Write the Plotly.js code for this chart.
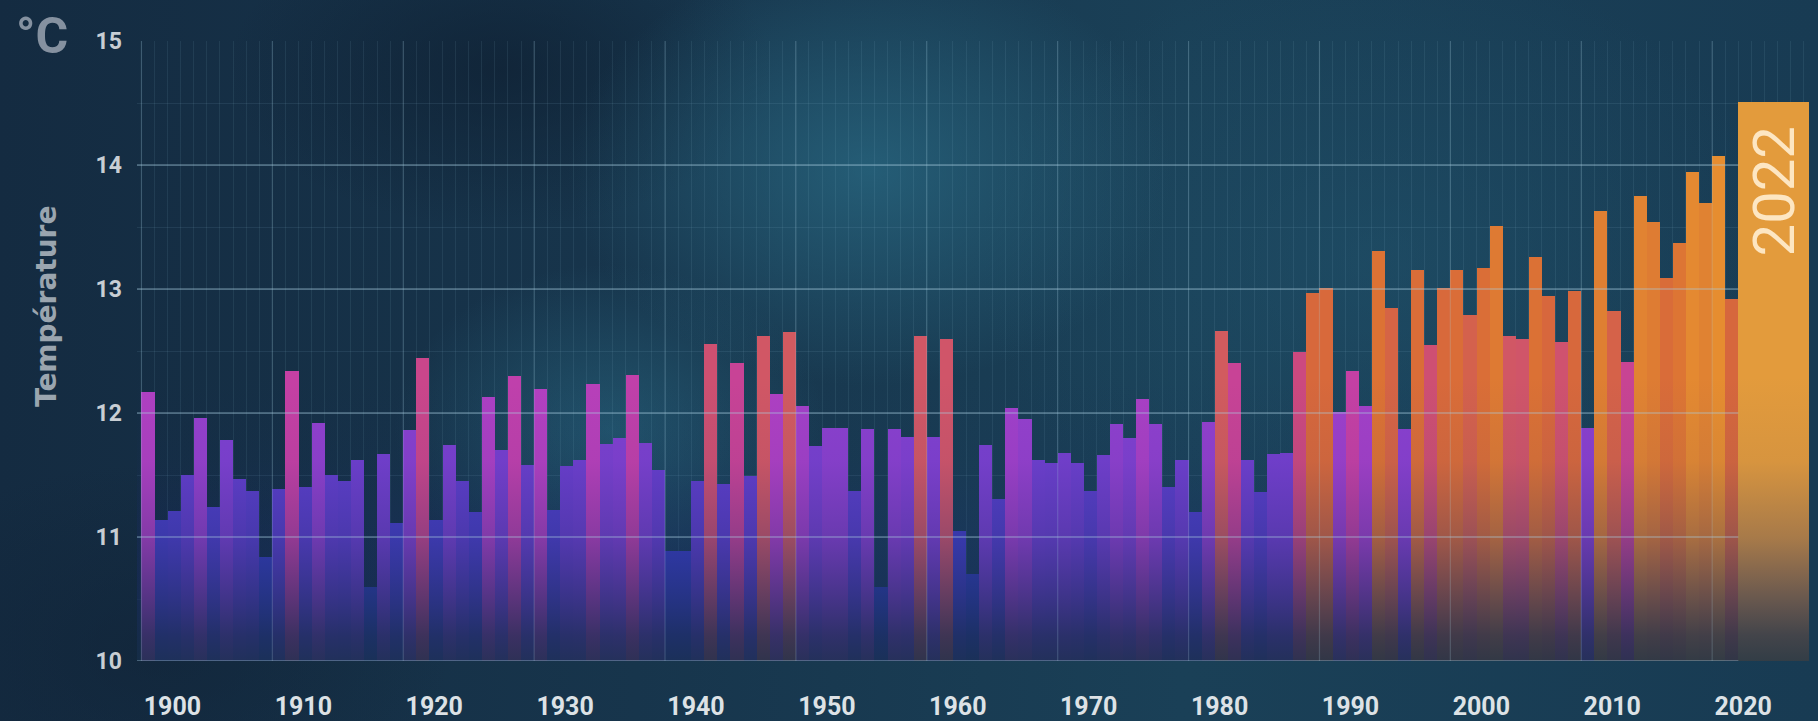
<!DOCTYPE html>
<html>
<head>
<meta charset="utf-8">
<script src="https://cdn.plot.ly/plotly-3.0.1.min.js"></script>
<style>
  html, body { margin: 0; padding: 0; }
  body {
    width: 1818px; height: 721px; overflow: hidden;
    background:
      radial-gradient(ellipse 420px 300px at 870px 170px, rgba(42,108,134,0.70), rgba(42,108,134,0) 72%),
      radial-gradient(ellipse 300px 230px at 610px 430px, rgba(42,108,134,0.55), rgba(42,108,134,0) 72%),
      radial-gradient(ellipse 560px 420px at 1380px 260px, rgba(34,88,114,0.45), rgba(34,88,114,0) 72%),
      radial-gradient(ellipse 380px 220px at 500px 70px, rgba(14,30,48,0.65), rgba(14,30,48,0) 72%),
      radial-gradient(ellipse 420px 260px at 150px 650px, rgba(16,34,54,0.55), rgba(16,34,54,0) 72%),
      linear-gradient(to right, #142b41 0%, #17354c 35%, #1a4057 65%, #183b53 100%);
  }
  #chart { width: 1818px; height: 721px; }
</style>
</head>
<body>
<div id="chart"></div>
<script>
// Annual mean temperature (°C), one array per decade
const temps1900s = [12.17, 11.14, 11.21, 11.50, 11.96, 11.24, 11.78, 11.47, 11.37, 10.84];
const temps1910s = [11.39, 12.34, 11.40, 11.92, 11.50, 11.45, 11.62, 10.60, 11.67, 11.11];
const temps1920s = [11.86, 12.44, 11.14, 11.74, 11.45, 11.20, 12.13, 11.70, 12.30, 11.58];
const temps1930s = [12.19, 11.22, 11.57, 11.62, 12.23, 11.75, 11.80, 12.31, 11.76, 11.54];
const temps1940s = [10.89, 10.89, 11.45, 12.56, 11.43, 12.40, 11.49, 12.62, 12.15, 12.65];
const temps1950s = [12.06, 11.73, 11.88, 11.88, 11.37, 11.87, 10.60, 11.87, 11.81, 12.62];
const temps1960s = [11.81, 12.60, 11.05, 10.70, 11.74, 11.31, 12.04, 11.95, 11.62, 11.60];
const temps1970s = [11.68, 11.60, 11.37, 11.66, 11.91, 11.80, 12.11, 11.91, 11.40, 11.62];
const temps1980s = [11.20, 11.93, 12.66, 12.40, 11.62, 11.36, 11.67, 11.68, 12.49, 12.97];
const temps1990s = [13.01, 12.01, 12.34, 12.06, 13.31, 12.85, 11.87, 13.15, 12.55, 13.01];
const temps2000s = [13.15, 12.79, 13.17, 13.51, 12.62, 12.60, 13.26, 12.94, 12.57, 12.98];
const temps2010s = [11.88, 13.63, 12.82, 12.41, 13.75, 13.54, 13.09, 13.37, 13.94, 13.69];
const temps2020s = [14.07, 12.92, 14.51];

const decadeStarts = [1900, 1910, 1920, 1930, 1940, 1950, 1960, 1970, 1980, 1990, 2000, 2010, 2020];
const decadeTemps = [temps1900s, temps1910s, temps1920s, temps1930s, temps1940s, temps1950s,
                     temps1960s, temps1970s, temps1980s, temps1990s, temps2000s, temps2010s, temps2020s];
const decadeLabels = ['1900','1910','1920','1930','1940','1950','1960','1970','1980','1990','2000','2010','2020'];
const yTickValues = [10, 11, 12, 13, 14, 15];
const highlightLabel = '2022';

// build the series
const years = [], temps = [];
decadeStarts.forEach((d, i) => decadeTemps[i].forEach((t, j) => { years.push(d + j); temps.push(t); }));
const last = years.length - 1;

// axis geometry
const xStart = 1899.16, xEnd = 2026.9;
const widths = years.map((y, i) => i === last ? xEnd - (y - 0.5) : 1);
const offsets = years.map(() => -0.5);

const colorscale = [
  [0.000, '#3040b8'], [0.077, '#3a3ec4'], [0.153, '#4e3ec8'], [0.230, '#643ecc'],
  [0.307, '#8040d0'], [0.358, '#9c40cc'], [0.409, '#b440c0'], [0.448, '#c640a2'],
  [0.486, '#cc4a7c'], [0.524, '#d25a60'], [0.588, '#d6663e'], [0.691, '#dc7234'],
  [0.793, '#e08232'], [0.895, '#e68e30'], [1.000, '#e39b3c']
];

const trace = {
  type: 'bar',
  x: years,
  y: temps.map(t => t - 10),
  base: 10,
  width: widths,
  offset: offsets,
  marker: {
    color: temps, colorscale: colorscale, cmin: 10.6, cmax: 14.51, showscale: false,
    line: { width: 0 }
  },
  hoverinfo: 'x+text',
  text: temps.map(t => t.toFixed(2) + ' °C'),
  textposition: 'none'
};

const gridColor = 'rgba(170,205,222,0.45)';
const shapes = [];
[10, 11, 12, 13, 14].forEach(v => shapes.push({
  type: 'line', xref: 'x', yref: 'y', x0: xStart, x1: years[last] - 0.5, y0: v, y1: v,
  line: { color: gridColor, width: 1.5 }, layer: 'above'
}));
decadeStarts.forEach(d => shapes.push({
  type: 'line', xref: 'x', yref: 'y', x0: d - 0.5, x1: d - 0.5, y0: 10, y1: 15,
  line: { color: 'rgba(170,205,222,0.22)', width: 1.2 }, layer: 'above'
}));

const fadeSvg = "<svg xmlns='http://www.w3.org/2000/svg' width='10' height='100' viewBox='0 0 10 100' preserveAspectRatio='none'>" +
  "<defs><linearGradient id='g' x1='0' y1='0' x2='0' y2='1'>" +
  "<stop offset='0' stop-color='rgb(24,42,100)' stop-opacity='0'/>" +
  "<stop offset='0.30' stop-color='rgb(26,44,108)' stop-opacity='0.06'/>" +
  "<stop offset='0.57' stop-color='rgb(26,44,104)' stop-opacity='0.30'/>" +
  "<stop offset='0.78' stop-color='rgb(24,44,90)' stop-opacity='0.60'/>" +
  "<stop offset='0.91' stop-color='rgb(22,44,78)' stop-opacity='0.78'/>" +
  "<stop offset='1' stop-color='rgb(22,46,72)' stop-opacity='0.86'/>" +
  "</linearGradient></defs><rect x='0' y='0' width='10' height='100' fill='url(#g)'/></svg>";

const W = 1818, H = 721;
const margin = { l: 137, r: 9, t: 41, b: 60 };
const plotW = W - margin.l - margin.r, plotH = H - margin.t - margin.b;
const px2paperX = px => (px - margin.l) / plotW;
const px2paperY = py => 1 - (py - margin.t) / plotH;

const font = 'Roboto, "Noto Sans", sans-serif';

const layout = {
  width: W, height: H,
  margin: margin,
  paper_bgcolor: 'rgba(0,0,0,0)',
  plot_bgcolor: 'rgba(0,0,0,0)',
  showlegend: false,
  barmode: 'overlay',
  bargap: 0,
  font: { family: font },
  xaxis: {
    range: [xStart, xEnd],
    tickmode: 'array',
    tickvals: decadeStarts.map(d => d - 0.5),
    ticktext: decadeLabels,
    ticks: '',
    showgrid: false,
    zeroline: false,
    showline: false,
    ticklabelshift: 31,
    ticklabelstandoff: 28,
    tickfont: { family: font, size: 25, color: '#dde2e6', weight: 'bold' },
    minor: { tickmode: 'linear', tick0: 1899.5, dtick: 1, showgrid: true,
             gridcolor: 'rgba(150,195,215,0.10)', gridwidth: 1, ticks: '' },
    fixedrange: true
  },
  yaxis: {
    range: [10, 15],
    tickmode: 'array',
    tickvals: yTickValues,
    ticktext: yTickValues.map(String),
    ticks: '',
    showgrid: false,
    zeroline: false,
    showline: false,
    ticklabelstandoff: 14,
    tickfont: { family: font, size: 23, color: '#c8ced4', weight: 'bold' },
    minor: { tickmode: 'linear', tick0: 10, dtick: 0.5, showgrid: true,
             gridcolor: 'rgba(150,195,215,0.11)', gridwidth: 1, ticks: '' },
    fixedrange: true
  },
  shapes: shapes,
  images: [{
    source: 'data:image/svg+xml;charset=utf-8,' + encodeURIComponent(fadeSvg),
    xref: 'paper', yref: 'y', x: 0, y: 12.3, sizex: 1, sizey: 2.3,
    xanchor: 'left', yanchor: 'top', sizing: 'stretch', layer: 'above'
  }],
  annotations: [
    { text: '°C', xref: 'paper', yref: 'paper', x: px2paperX(42), y: px2paperY(36),
      xanchor: 'center', yanchor: 'middle', showarrow: false,
      font: { family: font, size: 50, color: '#8591a0', weight: 'bold' } },
    { text: 'Température', xref: 'paper', yref: 'paper', x: px2paperX(47), y: px2paperY(307),
      xanchor: 'center', yanchor: 'middle', showarrow: false, textangle: -90,
      font: { family: '"DejaVu Sans", Roboto, sans-serif', size: 28, color: '#9aa5af', weight: 'bold' } },
    { text: highlightLabel, xref: 'x', yref: 'y', x: (years[last] - 0.5 + xEnd) / 2, y: temps[last],
      yshift: -90, xanchor: 'center', yanchor: 'middle', showarrow: false, textangle: -90,
      font: { family: font, size: 58, color: '#fde6c2' } }
  ]
};

Plotly.newPlot('chart', [trace], layout, { displayModeBar: false, staticPlot: true });
</script>
</body>
</html>
